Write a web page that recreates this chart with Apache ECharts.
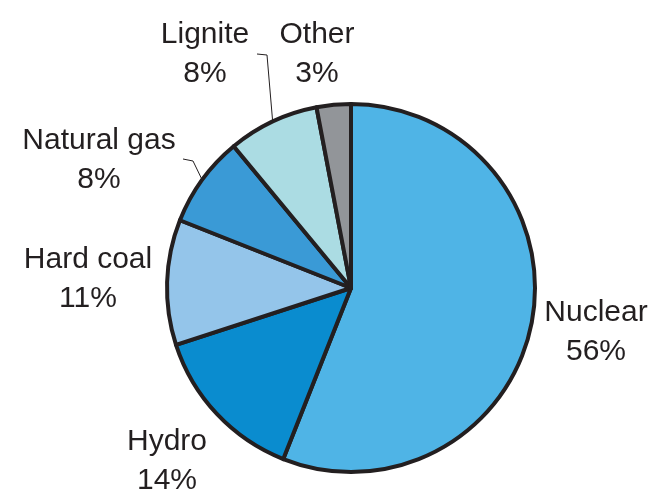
<!DOCTYPE html>
<html>
<head>
<meta charset="utf-8">
<script src="https://cdn.jsdelivr.net/npm/echarts@6/dist/echarts.min.js"></script>
<style>html,body{margin:0;padding:0;background:#fff;}#c{width:656px;height:496px;}</style>
</head>
<body>
<div id="c"></div>
<script>
const categories = ['Nuclear', 'Hydro', 'Hard coal', 'Natural gas', 'Lignite', 'Other'];
const shares = [56, 14, 11, 8, 8, 3];
const colors = ['#4FB4E6', '#0A8CCF', '#94C5EA', '#3A9AD6', '#ABDCE3', '#929599'];

// label placement (centre of each two-line label), and leader-line bends
const labelPos = [[596, 332], [167, 461], [88, 279], [99, 160], [205, 54], [317, 54]];
const leaderBends = { 3: [[193, 161], [183, 159]], 4: [[267, 55], [257, 54]] };

const chart = echarts.init(document.getElementById('c'));
chart.setOption({
  animation: false,
  series: [{
    type: 'pie',
    center: [351, 288],
    radius: [0, 184],
    startAngle: 90,
    clockwise: true,
    avoidLabelOverlap: false,
    itemStyle: { borderColor: '#231F20', borderWidth: 4, borderJoin: 'round' },
    label: {
      show: true,
      position: 'outside',
      formatter: p => p.name + '\n' + p.value + '%',
      fontFamily: '"Liberation Sans", Arial, sans-serif',
      fontSize: 30,
      lineHeight: 39,
      color: '#231F20',
      align: 'center'
    },
    labelLine: { show: false, lineStyle: { color: '#231F20', width: 1 } },
    labelLayout: function (params) {
      const i = params.dataIndex;
      const res = { x: labelPos[i][0], y: labelPos[i][1], align: 'center', verticalAlign: 'middle' };
      if (leaderBends[i] && params.labelLinePoints) {
        res.labelLinePoints = [params.labelLinePoints[0]].concat(leaderBends[i]);
      }
      return res;
    },
    data: categories.map((n, i) => ({
      name: n,
      value: shares[i],
      itemStyle: { color: colors[i] },
      labelLine: { show: !!leaderBends[i] }
    }))
  }]
});
</script>
</body>
</html>
